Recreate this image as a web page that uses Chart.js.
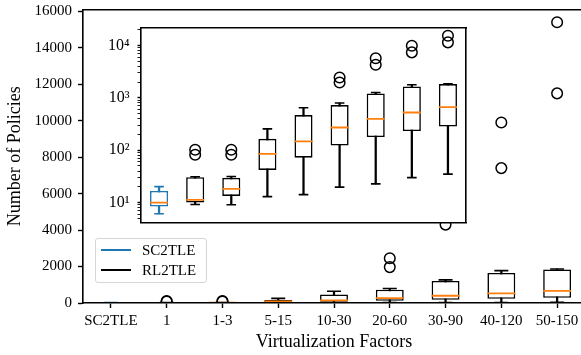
<!DOCTYPE html>
<html>
<head>
<meta charset="utf-8">
<script src="https://cdn.jsdelivr.net/npm/chart.js@4"></script>
<style>
  html, body { margin: 0; padding: 0; background: #fff; overflow: hidden; }
  #wrap { position: relative; width: 581px; height: 355px; overflow: hidden; }
  #main, #inset { position: absolute; left: 0; top: 0; }
  #legend {
    position: absolute; left: 95px; top: 237.5px; width: 112px; height: 45px;
    box-sizing: border-box; border: 1px solid #d6d6d6; border-radius: 3px;
    background: rgba(255,255,255,0.8); font: 15px "Liberation Serif", serif; color: #000;
  }
  #legend .row { position: absolute; left: 0; height: 18px; line-height: 18px; width: 100%; }
  #legend .sw { position: absolute; left: 5px; top: 8px; width: 30px; height: 1.8px; }
  #legend .tx { position: absolute; left: 46px; top: 0; }
</style>
</head>
<body>
<div id="wrap">
  <canvas id="main" width="585" height="355"></canvas>
  <canvas id="inset" width="581" height="355"></canvas>
  <div id="legend"></div>
</div>
<script>
// categories on the x axis
const categories = ['SC2TLE', '1', '1-3', '5-15', '10-30', '20-60', '30-90', '40-120', '50-150'];

// box plot statistics
const whiskerLow  = [6.1, 9.2, 9.1, 13, 14.2, 19.7, 22.8, 30, 35];
const q1          = [8.4, 10, 13.4, 42, 72, 123, 178, 232, 284];
const median      = [10, 11.3, 18.3, 85, 147, 272, 398, 526, 667];
const q3          = [16.7, 30.6, 29.7, 165, 469, 728, 1213, 1652, 1837];
const whiskerHigh = [20.2, 31.2, 31.4, 256, 647, 796, 1268, 1778, 1862];
const outliers    = [[], [82, 102], [82, 102], [], [], [1968, 2455], [4300, 5700], [7400, 9900], [11500, 15400]];

// legend entries
const seriesNames  = ['SC2TLE', 'RL2TLE'];
const seriesColors = ['#1f77b4', '#000000'];

// tick labels
const mainTicks = [0, 2000, 4000, 6000, 8000, 10000, 12000, 14000, 16000];
const insetTickValues = [10, 100, 1000, 10000];
const insetTickLabels = ['10¹', '10²', '10³', '10⁴'];

const ORANGE = '#ff7f0e';
const FONT = '"Liberation Serif", serif';
const LW = 1.6;
const boxColors = categories.map(c => c === 'SC2TLE' ? seriesColors[0] : seriesColors[1]);

// legend
const leg = document.getElementById('legend');
seriesNames.forEach((n, i) => {
  const row = document.createElement('div');
  row.className = 'row';
  row.style.top = (2.5 + i * 20) + 'px';
  row.innerHTML = '<span class="sw" style="background:' + seriesColors[i] + '"></span><span class="tx">' + n + '</span>';
  leg.appendChild(row);
});

function boxDatasets(medR, capR) {
  const outPts = [];
  outliers.forEach((list, i) => list.forEach(v => outPts.push({x: categories[i], y: v})));
  const ax = { xAxisID: 'x', yAxisID: 'y' };
  return [
    {
      ...ax, type: 'bar', order: 5, grouped: false,
      data: categories.map((c, i) => [whiskerLow[i], whiskerHigh[i]]),
      backgroundColor: boxColors, borderWidth: 0, barThickness: LW
    },
    {
      ...ax, type: 'bar', order: 4, grouped: false,
      data: categories.map((c, i) => [q1[i], q3[i]]),
      backgroundColor: '#ffffff', borderColor: boxColors, borderWidth: LW,
      borderSkipped: false, barPercentage: 0.5, categoryPercentage: 1
    },
    {
      ...ax, type: 'line', order: 3, showLine: false, data: median,
      pointStyle: 'line', pointRadius: medR, pointHoverRadius: medR,
      pointBorderColor: ORANGE, pointBorderWidth: 1.8
    },
    {
      ...ax, type: 'line', order: 2, showLine: false, data: whiskerHigh,
      pointStyle: 'line', pointRadius: capR, pointHoverRadius: capR,
      pointBorderColor: boxColors, pointBorderWidth: LW
    },
    {
      ...ax, type: 'line', order: 2, showLine: false, data: whiskerLow,
      pointStyle: 'line', pointRadius: capR, pointHoverRadius: capR,
      pointBorderColor: boxColors, pointBorderWidth: LW
    },
    {
      ...ax, type: 'line', order: 1, showLine: false, data: outPts, clip: 0,
      pointStyle: 'circle', pointRadius: 5.3, pointHoverRadius: 5.3,
      pointBackgroundColor: 'rgba(0,0,0,0)', pointBorderColor: '#000', pointBorderWidth: 1.5
    }
  ];
}

const frameAxis = (position, size) => ({
  type: 'linear', position: position, min: 0, max: 1,
  ticks: { display: false }, grid: { display: false },
  border: { display: true, color: '#000', width: 1.6 },
  afterFit: s => {
    if (position === 'top' || position === 'bottom') s.height = size; else s.width = size;
    s.paddingTop = s.paddingBottom = s.paddingLeft = s.paddingRight = 0;
  }
});

// main chart (linear)
new Chart(document.getElementById('main'), {
  type: 'bar',
  data: { labels: categories, datasets: boxDatasets(14, 7) },
  options: {
    responsive: false, animation: false,
    layout: { padding: 0, autoPadding: false },
    plugins: { legend: { display: false }, tooltip: { enabled: false } },
    scales: {
      x: {
        type: 'category', offset: true,
        grid: { display: true, drawOnChartArea: false, offset: false, tickLength: 5, tickColor: '#000', tickWidth: 1.4 },
        border: { color: '#000', width: 1.6, z: 1 },
        ticks: { color: '#000', font: { family: FONT, size: 15 }, padding: 4.5, maxRotation: 0, autoSkip: false },
        title: { display: true, text: 'Virtualization Factors', color: '#000', font: { family: FONT, size: 18 }, padding: { top: 0, bottom: 2 } },
        afterFit: s => { s.height = 52; s.paddingLeft = 0; s.paddingRight = 0; }
      },
      xTop: frameAxis('top', 9.5),
      y: {
        type: 'linear', min: 0, max: 16100,
        afterBuildTicks: s => { s.ticks = mainTicks.map(v => ({ value: v })); },
        grid: { display: true, drawOnChartArea: false, tickLength: 5, tickColor: '#000', tickWidth: 1.4 },
        border: { color: '#000', width: 1.6 },
        ticks: { color: '#000', font: { family: FONT, size: 15 }, padding: 6, callback: v => String(v) },
        title: { display: true, text: 'Number of Policies', color: '#000', font: { family: FONT, size: 18 }, padding: { top: 4, bottom: 0 } },
        afterFit: s => { s.width = 83; s.paddingTop = 0; s.paddingBottom = 0; }
      }
    }
  }
});

// inset chart (log)
const insetBg = {
  id: 'insetBg',
  beforeDraw(chart) {
    const a = chart.chartArea, c = chart.ctx;
    c.save();
    c.fillStyle = '#fff';
    c.fillRect(a.left, a.top, a.right - a.left, a.bottom - a.top);
    c.restore();
  }
};

new Chart(document.getElementById('inset'), {
  type: 'bar',
  data: { labels: categories, datasets: boxDatasets(9, 4.8) },
  plugins: [insetBg],
  options: {
    responsive: false, animation: false,
    layout: { padding: { left: 100, top: 27.5, right: 115, bottom: 132.7 }, autoPadding: false },
    plugins: { legend: { display: false }, tooltip: { enabled: false } },
    scales: {
      x: {
        type: 'category', offset: true,
        grid: { display: false }, ticks: { display: false },
        border: { color: '#000', width: 1.6 },
        afterFit: s => { s.height = 0; s.paddingLeft = 0; s.paddingRight = 0; }
      },
      y: {
        type: 'logarithmic', min: 4.2, max: 22100,
        afterBuildTicks: s => {
          s.ticks = s.ticks.filter(t => {
            const m = t.value / Math.pow(10, Math.floor(Math.log10(t.value) + 1e-9));
            return Math.abs(m - Math.round(m)) < 1e-6;
          });
        },
        grid: {
          display: true, drawOnChartArea: false, tickLength: 3.5, tickColor: '#000',
          tickWidth: c => (insetTickValues.includes(c.tick && c.tick.value) ? 1.4 : 0.9)
        },
        border: { color: '#000', width: 1.6 },
        ticks: {
          color: '#000', font: { family: FONT, size: 16 }, padding: 8, autoSkip: false,
          callback: v => { const k = insetTickValues.indexOf(v); return k >= 0 ? insetTickLabels[k] : ''; }
        },
        afterFit: s => { s.width = 41; s.paddingTop = 0; s.paddingBottom = 0; }
      },
      xTop: frameAxis('top', 0),
      yRight: frameAxis('right', 0)
    }
  }
});
</script>
</body>
</html>
